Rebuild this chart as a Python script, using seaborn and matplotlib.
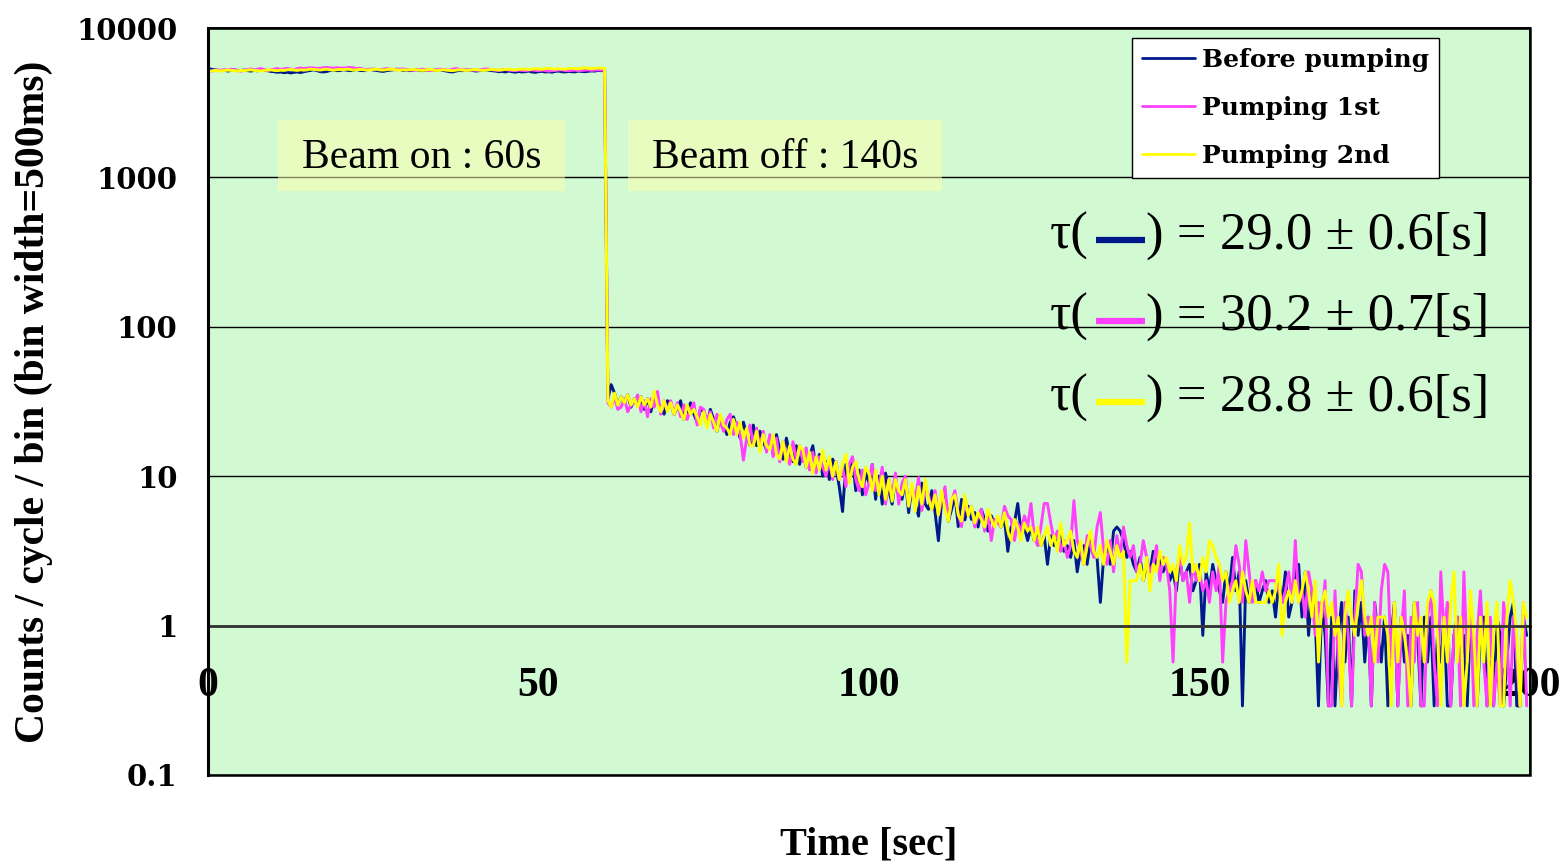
import numpy as np
import pandas as pd
import matplotlib
matplotlib.use("Agg")
import matplotlib.pyplot as plt
from matplotlib.patches import Rectangle
from matplotlib.lines import Line2D
from matplotlib.ticker import NullLocator
import seaborn as sns

# ---------------- data ----------------
series_names = ["Before pumping", "Pumping 1st", "Pumping 2nd"]
series_colors = ["#001A8C", "#FF40FF", "#FFFF00"]
bin_width = 0.5  # s

before_on = [
    5350, 5300, 5250, 5200, 5180, 5220, 5150, 5200, 5250, 5180,
    5200, 5230, 5180, 5150, 5200, 5170, 5250, 5200, 5180, 5120,
    5100, 5050, 5080, 5020, 5060, 5000, 5050, 5080, 5030, 5100,
    5150, 5200, 5250, 5180, 5100, 5080, 5120, 5200, 5230, 5180,
    5200, 5250, 5220, 5180, 5230, 5270, 5200, 5180, 5250, 5300,
    5230, 5200, 5150, 5120, 5180, 5220, 5250, 5300, 5280, 5200,
    5230, 5180, 5220, 5260, 5200, 5180, 5250, 5220, 5190, 5230,
    5270, 5200, 5160, 5100, 5080, 5150, 5200, 5180, 5230, 5250,
    5200, 5150, 5180, 5220, 5250, 5200, 5180, 5150, 5100, 5120,
    5080, 5150, 5100, 5060, 5120, 5080, 5100, 5150, 5080, 5050,
    5100, 5130, 5080, 5100, 5060, 5120, 5150, 5100, 5080, 5120,
    5100, 5080, 5150, 5120, 5100, 5130, 5160, 5150, 5200, 5180,
    5200]
pump1_on = [
    5200, 5150, 5180, 5250, 5200, 5280, 5220, 5300, 5250, 5200,
    5150, 5200, 5280, 5320, 5250, 5300, 5350, 5280, 5200, 5250,
    5300, 5350, 5280, 5320, 5380, 5300, 5250, 5350, 5400, 5350,
    5380, 5420, 5400, 5350, 5380, 5420, 5450, 5400, 5380, 5420,
    5400, 5380, 5420, 5450, 5400, 5350, 5380, 5300, 5250, 5280,
    5320, 5280, 5250, 5300, 5350, 5300, 5280, 5250, 5300, 5320,
    5280, 5250, 5200, 5230, 5280, 5300, 5250, 5180, 5200, 5250,
    5300, 5280, 5250, 5220, 5300, 5350, 5300, 5250, 5220, 5280,
    5250, 5200, 5230, 5280, 5320, 5300, 5250, 5220, 5200, 5250,
    5280, 5220, 5200, 5180, 5230, 5200, 5180, 5220, 5250, 5200,
    5180, 5230, 5200, 5150, 5180, 5200, 5230, 5250, 5200, 5180,
    5200, 5230, 5180, 5200, 5220, 5250, 5200, 5230, 5250, 5220,
    5250]
pump2_on = [
    5100, 5150, 5200, 5180, 5150, 5200, 5230, 5200, 5180, 5150,
    5200, 5180, 5220, 5250, 5200, 5180, 5150, 5200, 5230, 5250,
    5200, 5180, 5220, 5200, 5250, 5280, 5230, 5200, 5250, 5220,
    5250, 5300, 5280, 5250, 5230, 5280, 5300, 5250, 5220, 5260,
    5280, 5250, 5300, 5280, 5230, 5250, 5280, 5260, 5230, 5250,
    5280, 5300, 5250, 5230, 5260, 5300, 5280, 5250, 5220, 5250,
    5230, 5260, 5280, 5250, 5220, 5200, 5250, 5280, 5230, 5200,
    5220, 5250, 5230, 5200, 5180, 5220, 5250, 5230, 5200, 5230,
    5250, 5280, 5230, 5200, 5220, 5250, 5280, 5260, 5230, 5250,
    5280, 5300, 5260, 5250, 5280, 5320, 5300, 5280, 5300, 5350,
    5320, 5300, 5350, 5380, 5330, 5300, 5350, 5320, 5300, 5350,
    5380, 5350, 5320, 5370, 5400, 5380, 5350, 5370, 5400, 5380,
    5380]

before_off = [
    33, 41, 36, 30, 34, 31, 35, 29, 33,
    30, 34, 28, 33, 27, 34, 31, 28, 26, 32,
    31, 26, 29, 32, 24, 27, 31, 26, 23, 28,
    27, 22, 28, 24, 20, 25, 22, 19, 23, 25,
    21, 18, 23, 19, 16, 22, 16, 20, 17, 15,
    18, 14, 19, 15, 13, 18, 14, 12.5, 16, 12,
    15, 11.5, 13.5, 16, 11, 14, 10, 12.5, 9.5, 13,
    11.5, 8.5, 5.8, 12, 9.5, 13, 8, 11, 7.5, 10.5,
    9, 12, 7, 10, 6.5, 10.5, 8, 6.5, 9.5, 7.5,
    7, 9.5, 5.7, 8.5, 6.5, 5.4, 9, 6.5, 6, 8,
    5.7, 3.7, 7, 7.5, 5, 6, 7.5, 4.6, 7, 5.1,
    6.29, 5.14, 5.71, 4.57, 6.0, 5.14, 4.29, 5.43, 4.86, 5.14,
    4.57, 5.14, 3.14, 4.57, 4.86, 6.57, 4.29, 4.57, 3.71, 4.57,
    3.71, 4.29, 3.43, 4.0, 2.57, 4.0, 3.43, 3.71, 4.29, 3.14,
    3.43, 2.86, 3.71, 2.29, 3.14, 3.43, 2.57, 3.71, 3.14, 2.86,
    1.43, 2.86, 3.43, 2.57, 4.29, 4.57, 4.29, 3.71, 2.86, 3.14,
    2.57, 2.29, 2.86, 2.0, 2.57, 2.29, 3.14, 2.57, 2.86, 2.29,
    2.57, 2.0, 2.29, 1.71, 2.86, 2.0, 2.29, 2.57, 1.71, 2.0,
    2.57, 0.86, 2.29, 1.71, 2.57, 2.0, 1.71, 1.43, 2.29, 1.71,
    2.86, 1.71, 2.29, 0.29, 2.0, 1.43, 1.71, 2.0, 1.43, 1.71,
    2.0, 1.43, 1.71, 1.14, 2.0, 1.43, 2.29, 1.14, 1.43, 2.29,
    2.57, 1.14, 2.29, 0.86, 1.71, 1.14, 0.29, 1.43, 0.86, 0.29,
    1.14, 0.29, 0.86, 1.43, 0.57, 1.14, 0.29, 1.71, 0.86, 1.43,
    0.57, 1.14, 0.29, 1.43, 0.86, 0.57, 1.14, 0.29, 0.86, 1.43,
    0.29, 1.14, 0.57, 0.86, 0.29, 1.43, 0.86, 0.29, 1.14, 0.57,
    1.14, 0.29, 0.86, 0.57, 1.14, 0.29, 0.29, 0.86, 1.14, 0.57,
    0.86, 0.29, 1.14, 0.57, 0.29, 0.86, 1.14, 0.29, 0.57, 0.29,
    1.14, 0.86, 0.29, 0.57, 1.14, 1.43, 0.29, 0.29, 1.14, 0.86]
pump1_off = [
    31, 29, 34, 28, 29, 33, 27, 30, 31,
    35, 27, 32, 25, 33, 29, 37, 26, 32, 28,
    32, 26, 31, 25, 30, 24, 28, 31, 22, 29,
    28, 23, 27, 21, 26, 23, 20, 24, 26, 19,
    23, 19, 12.8, 18, 22, 16, 21, 15, 20, 14.5,
    19, 13.5, 18, 12.5, 17, 14, 12, 17, 13, 16,
    12.5, 15.5, 11, 14.5, 10.5, 13.5, 11.5, 10, 13, 9.5,
    12.5, 9.5, 11.5, 8.5, 12, 13.5, 9.5, 8, 11, 7.5,
    9, 12, 8, 8.5, 11.5, 6.5, 9.5, 7.5, 10.5, 6.5,
    9, 10, 6.3, 8.5, 7, 9.8, 5.9, 8.5, 7.5, 6,
    8, 5.5, 7, 8.5, 5.1, 6.8, 8, 5.6, 4.6, 7,
    5.71, 6.29, 4.57, 5.43, 6.0, 4.29, 5.71, 3.71, 5.14, 4.86,
    4.57, 6.29, 5.43, 5.14, 3.71, 4.86, 4.29, 5.43, 4.57, 6.57,
    4.0, 3.43, 4.57, 6.57, 6.57, 4.86, 3.71, 4.29, 3.14, 3.71,
    2.86, 3.43, 6.86, 3.71, 3.14, 2.57, 4.0, 3.43, 2.86, 4.57,
    5.71, 3.14, 2.57, 3.71, 2.29, 4.0, 2.86, 4.57, 3.43, 2.86,
    3.43, 2.29, 2.57, 3.71, 2.86, 2.29, 2.57, 3.43, 2.0, 2.86,
    2.57, 1.71, 0.57, 2.29, 2.86, 2.0, 2.29, 1.43, 2.57, 2.0,
    2.29, 1.71, 2.0, 1.43, 2.29, 1.71, 2.57, 0.57, 1.43, 1.71,
    2.0, 3.43, 2.57, 1.43, 3.71, 2.29, 1.43, 2.0, 1.71, 2.29,
    1.71, 2.0, 2.0, 2.0, 1.71, 1.43, 1.71, 2.29, 1.43, 3.71,
    1.43, 1.71, 1.14, 2.29, 1.71, 0.86, 1.43, 1.14, 2.0, 0.29,
    0.29, 1.71, 0.57, 0.29, 1.43, 0.86, 0.29, 1.14, 2.57, 2.29,
    0.86, 1.14, 0.29, 1.43, 0.57, 1.71, 2.57, 2.29, 0.57, 1.43,
    0.29, 0.86, 1.71, 0.29, 1.14, 0.57, 1.43, 0.29, 0.29, 1.14,
    1.71, 0.57, 0.29, 2.29, 0.86, 1.43, 0.29, 0.86, 1.14, 0.29,
    2.29, 0.57, 1.43, 0.29, 0.86, 1.71, 0.57, 0.29, 1.14, 0.29,
    0.57, 0.29, 1.43, 0.86, 0.29, 1.14, 0.57, 0.29, 1.43, 0.29]
pump2_off = [
    32, 29, 36, 30, 34, 31, 35, 30, 33,
    29, 34, 30, 33, 29, 37, 30, 27, 32, 27,
    31, 26, 30, 27, 24, 30, 26, 28, 25, 22,
    27, 21, 26, 23, 20, 26, 22, 21, 19, 24,
    19, 23, 18, 21, 16, 16, 20, 14.5, 19, 16,
    15, 19, 14, 13, 17, 12.5, 16, 13, 12, 16,
    15, 11.5, 14.5, 10.5, 13.5, 11, 15, 11, 13.5, 10,
    12.5, 9.5, 12, 14, 9, 11.5, 12.5, 9.5, 8.5, 11.5,
    10.5, 8, 11, 7.5, 10, 7, 9.5, 6.8, 9.5, 8,
    7.5, 9.5, 6.3, 9, 5.8, 8.5, 6.5, 9.5, 7, 6,
    7.5, 5.5, 8, 6, 5, 7, 7.5, 5.5, 5, 7.5,
    5.43, 6.29, 4.86, 5.71, 5.14, 4.57, 6.0, 5.14, 4.57, 5.43,
    4.57, 5.71, 4.29, 3.71, 5.14, 4.57, 3.71, 4.86, 4.29, 4.57,
    3.71, 4.57, 3.43, 4.0, 4.57, 3.43, 4.0, 3.14, 4.86, 3.43,
    3.71, 4.29, 3.14, 2.86, 3.71, 2.57, 3.43, 4.29, 3.14, 2.86,
    3.43, 2.57, 3.71, 3.14, 2.57, 3.43, 2.86, 3.14, 0.57, 2.0,
    2.0, 2.0, 2.57, 2.0, 2.86, 1.71, 2.57, 2.29, 3.14, 2.57,
    2.86, 2.29, 2.57, 2.0, 3.43, 2.57, 2.86, 4.86, 2.29, 2.57,
    2.0, 2.86, 2.29, 3.71, 3.43, 2.86, 2.57, 2.0, 2.29, 1.43,
    1.71, 2.0, 1.43, 2.29, 1.71, 1.43, 2.0, 1.43, 1.43, 1.43,
    1.43, 1.71, 1.43, 1.71, 2.57, 0.86, 1.43, 1.71, 1.43, 2.0,
    1.43, 1.71, 2.29, 1.71, 1.14, 2.0, 0.57, 1.43, 1.71, 1.14,
    1.43, 0.86, 1.14, 0.29, 1.14, 1.71, 1.14, 0.86, 1.43, 2.0,
    1.14, 0.86, 1.14, 0.57, 1.14, 1.14, 1.14, 0.86, 0.29, 1.43,
    0.57, 1.14, 0.86, 0.57, 0.29, 1.43, 0.86, 1.14, 0.57, 1.43,
    1.71, 1.43, 0.86, 0.29, 1.14, 0.57, 1.43, 2.29, 0.57, 1.14,
    0.29, 0.57, 1.71, 0.86, 0.29, 1.14, 0.57, 1.43, 0.29, 0.86,
    1.43, 0.29, 0.29, 1.14, 2.0, 1.43, 0.86, 0.29, 1.43, 1.14]

tau_values = [29.0, 30.2, 28.8]
tau_errors = [0.6, 0.7, 0.6]
xticks = [0, 50, 100, 150, 200]
yticks = [0.1, 1, 10, 100, 1000, 10000]
ytick_labels = ["0.1", "1", "10", "100", "1000", "10000"]
beam_labels = ["Beam on : 60s", "Beam off : 140s"]

# ---------------- frame ----------------
rows = []
for name, on, off in zip(series_names, [before_on, pump1_on, pump2_on],
                         [before_off, pump1_off, pump2_off]):
    vals = list(on) + list(off)
    for i, v in enumerate(vals):
        rows.append((name, i * bin_width, v))
df = pd.DataFrame(rows, columns=["series", "time", "counts"])

# ---------------- style ----------------
sns.set_style("white")
plt.rcParams["font.family"] = ["Liberation Serif", "DejaVu Serif"]
plt.rcParams["text.color"] = "black"
plt.rcParams["axes.labelcolor"] = "black"
plt.rcParams["xtick.color"] = "black"
plt.rcParams["ytick.color"] = "black"

W, H = 1568, 867
fig = plt.figure(figsize=(W / 100, H / 100), dpi=100)
fig.patch.set_facecolor("white")

def fx(px):
    return px / W

def fy(py):
    return 1 - py / H

ax = fig.add_axes([fx(208), fy(775), (1530 - 208) / W, (775 - 28) / H])
ax.set_facecolor("#D2FAD2")

sns.lineplot(data=df, x="time", y="counts", hue="series",
             hue_order=series_names, palette=dict(zip(series_names, series_colors)),
             estimator=None, linewidth=2.1, legend=False, ax=ax)

ax.set_yscale("log")
ax.set_xlim(0, 200)
ax.set_ylim(0.1, 10000)
ax.set_xlabel("")
ax.set_ylabel("")

ax.set_yticks(yticks, labels=ytick_labels)
ax.yaxis.set_minor_locator(NullLocator())
ax.set_xticks(xticks, labels=[str(v) for v in xticks])
ax.xaxis.set_minor_locator(NullLocator())

ax.yaxis.grid(True, which="major", color="black", linewidth=1)
ax.xaxis.grid(False)
ax.set_axisbelow(True)

# x axis crosses at y = 1
ax.spines["bottom"].set_position(("data", 1))
ax.spines["bottom"].set_color("#333333")
ax.spines["bottom"].set_linewidth(2)
for s in ["left", "top", "right"]:
    ax.spines[s].set_color("black")
ax.spines["left"].set_linewidth(2.2)
ax.spines["top"].set_linewidth(1.3)
ax.spines["right"].set_linewidth(1.3)
ax.add_patch(Rectangle((0, 0), 1, 1, transform=ax.transAxes, fill=False,
                       edgecolor="black", linewidth=1.8, clip_on=False, zorder=5))

ax.tick_params(axis="x", direction="in", length=13, width=1, color="black",
               pad=30, labelsize=30, labelcolor="black")
ax.tick_params(axis="y", length=0, pad=22, labelcolor="black")
for lab in ax.get_xticklabels():
    lab.set_fontweight("bold")
    lab.set_family("Liberation Serif")
for lab in ax.get_yticklabels():
    lab.set_fontweight("bold")
    lab.set_family("DejaVu Serif")
    lab.set_fontsize(21)

# axis titles
fig.text(fx(869), fy(845), "Time [sec]", ha="center", va="center",
         fontsize=29, fontweight="bold", color="black")
fig.text(fx(34), fy(402), "Counts / cycle / bin (bin width=500ms)", ha="center",
         va="center", rotation=90, fontsize=30, fontweight="bold", color="black")

# beam on/off boxes
box_px = [(278, 565), (628, 942)]
for (x0, x1), label in zip(box_px, beam_labels):
    ax0 = (x0 - 208) / 1322
    ax1 = (x1 - 208) / 1322
    yb = (775 - 191) / 747
    yt = (775 - 120) / 747
    ax.add_patch(Rectangle((ax0, yb), ax1 - ax0, yt - yb, transform=ax.transAxes,
                           facecolor="#FFFFB0", alpha=0.5, edgecolor="none", zorder=3))
    ax.text((ax0 + ax1) / 2, (775 - 168) / 747, label, transform=ax.transAxes,
            ha="center", va="baseline", fontsize=30, zorder=4, color="black")

# legend
handles = [Line2D([], [], color=c, linewidth=2) for c in series_colors]
leg = ax.legend(handles, series_names, loc="upper left",
                bbox_to_anchor=(0.699, 0.9866), borderaxespad=0,
                prop={"family": "DejaVu Serif", "weight": "bold", "size": 18},
                frameon=True, fancybox=False, framealpha=1, edgecolor="black",
                handlelength=2.1, handletextpad=0.3, labelspacing=0.95, borderpad=0.4)
leg.get_frame().set_linewidth(1)
leg.set_zorder(6)
for t in leg.get_texts():
    t.set_color("black")

# tau annotations
for i, (c, tv, te) in enumerate(zip(series_colors, tau_values, tau_errors)):
    base = 249 + i * 81
    fig.text(fx(1050), fy(base), "τ(", fontsize=38, ha="left", va="baseline",
             color="black")
    fig.add_artist(Line2D([fx(1096), fx(1145)], [fy(base - 9), fy(base - 9)],
                          transform=fig.transFigure, color=c, linewidth=4.5,
                          solid_capstyle="butt"))
    fig.text(fx(1146), fy(base), f") = {tv:.1f} ± {te:.1f}[s]", fontsize=38,
             ha="left", va="baseline", color="black")

fig.savefig("out.png", dpi=100, facecolor="white")
